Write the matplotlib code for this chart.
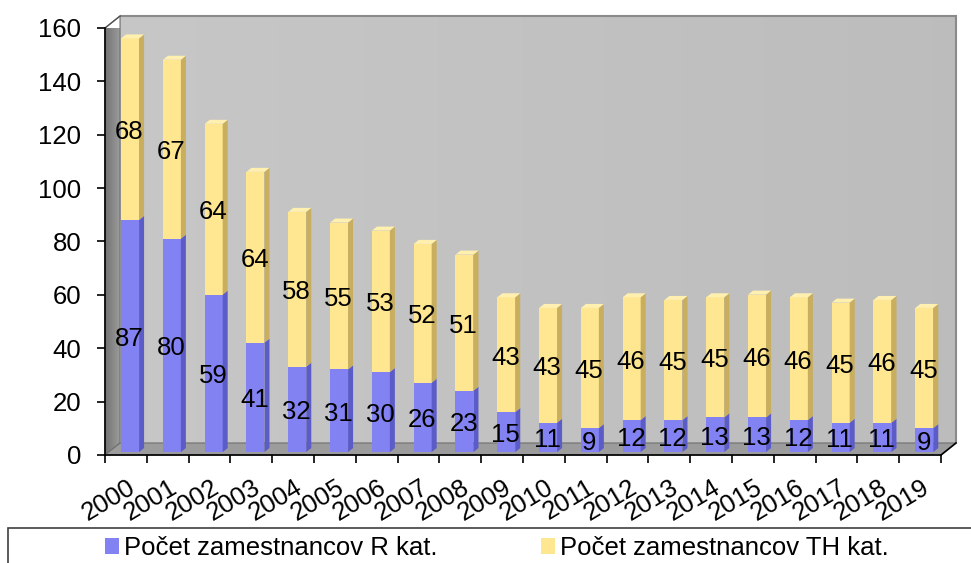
import matplotlib
matplotlib.use("Agg")
from matplotlib import pyplot as plt
from matplotlib.patches import Polygon, Rectangle, Patch
import numpy as np

plt.rcParams['font.family'] = ['Liberation Sans', 'DejaVu Sans']

# data
years = [str(y) for y in range(2000, 2020)]
r_kat = [87, 80, 59, 41, 32, 31, 30, 26, 23, 15, 11, 9, 12, 12, 13, 13, 12, 11, 11, 9]
th_kat = [68, 67, 64, 64, 58, 55, 53, 52, 51, 43, 43, 45, 46, 45, 45, 46, 46, 45, 46, 45]
series_names = ['Počet zamestnancov R kat.', 'Počet zamestnancov TH kat.']

# colours (front, side, top)
purple = ('#8282F2', '#5C5CC8', '#A0A0FF')
yellow = ('#FFE690', '#C8AE5E', '#FFF0B0')
fs = 18.5

W, H = 971, 563
fig = plt.figure(figsize=(W / 100, H / 100), dpi=100)
ax = fig.add_axes([105 / W, 108 / H, (941 - 105) / W, (455 - 28) / H])
n = len(years)
ax.set_xlim(-0.5, n - 0.5)
ax.set_ylim(0, 160)
ax.set_facecolor('none')

# 3d box offsets
dx, dy = 0.36, 4.5
x0, x1 = -0.5, n - 0.5

# back wall with a light gradient
grad = np.linspace(0.78, 0.74, 100).reshape(1, -1)
ax.imshow(np.dstack([grad, grad, grad]), extent=[x0 + dx, x1 + dx, dy, 160 + dy],
          aspect='auto', zorder=0, clip_on=False)
ax.add_patch(Polygon([(x0 + dx, 160 + dy), (x1 + dx, 160 + dy), (x1 + dx, dy)],
                     closed=False, fill=False, edgecolor='#8a8a8a', lw=1.5,
                     zorder=1, clip_on=False))
# left wall, darker towards the front
lw_grad = np.linspace(0.45, 0.62, 50).reshape(1, -1)
wall = ax.imshow(np.dstack([lw_grad, lw_grad, lw_grad]), extent=[x0, x0 + dx, 0, 160 + dy],
                 aspect='auto', zorder=1, clip_on=True)
wall_poly = Polygon([(x0, 0), (x0 + dx, dy), (x0 + dx, 160 + dy), (x0, 160)],
                    facecolor='none', edgecolor='#6e6e6e', lw=0.8, zorder=1, clip_on=False)
ax.add_patch(wall_poly)
wall.set_clip_path(wall_poly)
# floor
ax.add_patch(Polygon([(x0, 0), (x1, 0), (x1 + dx, dy), (x0 + dx, dy)],
                     facecolor='#9c9c9c', edgecolor='#707070', lw=0.8, zorder=1, clip_on=False))
ax.plot([x1, x1 + dx], [0, dy], color='black', lw=1.2, zorder=5, clip_on=False)
ax.plot([x0, x0 + dx], [160, 160 + dy], color='#555555', lw=1.0, zorder=5, clip_on=False)

# bars
bw = 0.43
bx = 0.1 - bw / 2
sd, td = 0.12, 1.5
base_lift = 1.1


def draw_segment(i, lo, hi, cols, top):
    xl = i + bx
    xr = xl + bw
    ylo, yhi = lo + base_lift, hi + base_lift
    ax.add_patch(Rectangle((xl, ylo), bw, yhi - ylo, facecolor=cols[0],
                           edgecolor='none', zorder=3, clip_on=False))
    ax.add_patch(Polygon([(xr, ylo), (xr + sd, ylo + td), (xr + sd, yhi + td), (xr, yhi)],
                         facecolor=cols[1], edgecolor='none', zorder=3, clip_on=False))
    if top:
        ax.add_patch(Polygon([(xl, yhi), (xr, yhi), (xr + sd, yhi + td), (xl + sd, yhi + td)],
                             facecolor=cols[2], edgecolor='none', zorder=3, clip_on=False))


for i in range(n):
    draw_segment(i, 0, r_kat[i], purple, False)
    draw_segment(i, r_kat[i], r_kat[i] + th_kat[i], yellow, True)
    ax.text(i + 0.08, r_kat[i] / 2, str(r_kat[i]), ha='center', va='center',
            fontsize=fs, zorder=6)
    ax.text(i + 0.08, r_kat[i] + th_kat[i] / 2, str(th_kat[i]), ha='center', va='center',
            fontsize=fs, zorder=6)

# axes
for s in ['top', 'right']:
    ax.spines[s].set_visible(False)
ax.spines['left'].set_linewidth(1.2)
ax.spines['bottom'].set_linewidth(1.2)
ax.spines['left'].set_zorder(5)
ax.spines['bottom'].set_zorder(5)
ax.set_yticks(range(0, 161, 20))
ax.tick_params(axis='y', labelsize=fs, length=6, width=1.2, pad=11)
ax.set_xticks(np.arange(-0.5, n, 1.0))
ax.set_xticklabels([])
ax.tick_params(axis='x', length=6, width=1.2)
for i, y in enumerate(years):
    ax.text(i + 0.03, -7.5, y, rotation=31, rotation_mode='anchor', ha='right', va='top',
            fontsize=fs, clip_on=False)

# legend box
fig.patches.append(Rectangle((8 / W, -0.05), 1.0, (H - 528) / H + 0.05,
                             transform=fig.transFigure, fill=False,
                             edgecolor='#404040', lw=1.2))
handles = [Patch(facecolor=purple[0]), Patch(facecolor=yellow[0])]
fig.legend(handles, series_names, loc='center', bbox_to_anchor=(497 / W, 15 / H),
           ncol=2, frameon=False, fontsize=fs, handlelength=0.55, handleheight=0.55,
           handletextpad=0.2, columnspacing=4.0)

fig.savefig('out.png', dpi=100)
